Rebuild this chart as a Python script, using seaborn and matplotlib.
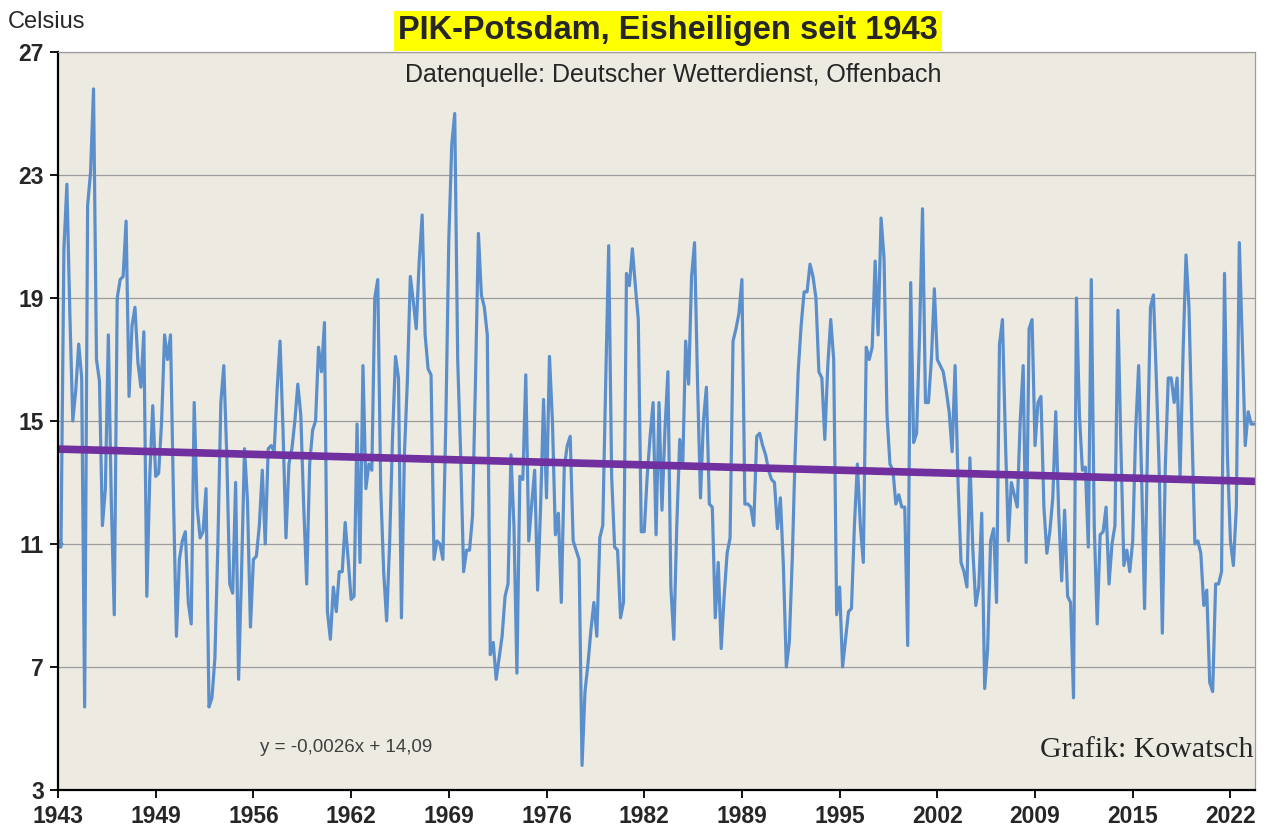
import numpy as np
import pandas as pd
import matplotlib
matplotlib.use("Agg")
import matplotlib.pyplot as plt
import seaborn as sns

# Tagesmittel Potsdam, 11.-15. Mai, 1943-2023 (5 Werte pro Jahr)
temps = [
    11.0, 10.9, 20.6, 22.7, 18.5, 15.0, 16.0, 17.5, 16.4, 5.7,
    22.0, 23.1, 25.8, 17.0, 16.3, 11.6, 12.8, 17.8, 12.4, 8.7,
    19.0, 19.6, 19.7, 21.5, 15.8, 18.1, 18.7, 16.9, 16.1, 17.9,
    9.3, 13.2, 15.5, 13.2, 13.3, 15.0, 17.8, 17.0, 17.8, 12.5,
    8.0, 10.5, 11.1, 11.4, 9.1, 8.4, 15.6, 12.2, 11.2, 11.4,
    12.8, 5.7, 6.0, 7.3, 11.0, 15.6, 16.8, 13.9, 9.7, 9.4,
    13.0, 6.6, 10.1, 14.1, 12.4, 8.3, 10.5, 10.6, 11.6, 13.4,
    11.0, 14.1, 14.2, 14.0, 16.0, 17.6, 14.7, 11.2, 13.6, 14.1,
    15.0, 16.2, 15.2, 12.2, 9.7, 13.6, 14.7, 15.0, 17.4, 16.6,
    18.2, 8.8, 7.9, 9.6, 8.8, 10.1, 10.1, 11.7, 10.5, 9.2,
    9.3, 14.9, 10.4, 16.8, 12.8, 13.6, 13.4, 19.0, 19.6, 12.8,
    10.1, 8.5, 11.0, 14.5, 17.1, 16.4, 8.6, 13.9, 16.3, 19.7,
    18.9, 18.0, 20.2, 21.7, 17.8, 16.7, 16.5, 10.5, 11.1, 11.0,
    10.5, 15.0, 20.9, 24.0, 25.0, 17.0, 13.9, 10.1, 10.8, 10.8,
    11.9, 16.3, 21.1, 19.1, 18.7, 17.8, 7.4, 7.8, 6.6, 7.3,
    8.0, 9.3, 9.7, 13.9, 11.6, 6.8, 13.2, 13.1, 16.5, 11.1,
    12.3, 13.4, 9.5, 12.2, 15.7, 12.5, 17.1, 15.0, 11.3, 12.0,
    9.1, 13.5, 14.2, 14.5, 11.1, 10.8, 10.5, 3.8, 6.2, 7.1,
    8.2, 9.1, 8.0, 11.2, 11.6, 16.3, 20.7, 13.2, 10.9, 10.8,
    8.6, 9.1, 19.8, 19.4, 20.6, 19.4, 18.3, 11.4, 11.4, 13.2,
    14.5, 15.6, 11.3, 15.6, 12.1, 14.7, 16.6, 9.6, 7.9, 11.6,
    14.4, 13.5, 17.6, 16.2, 19.7, 20.8, 16.3, 12.5, 15.0, 16.1,
    12.3, 12.2, 8.6, 10.4, 7.6, 9.3, 10.7, 11.2, 17.6, 18.0,
    18.5, 19.6, 12.3, 12.3, 12.2, 11.6, 14.5, 14.6, 14.2, 13.9,
    13.4, 13.1, 13.0, 11.5, 12.5, 10.3, 7.0, 7.8, 10.5, 14.0,
    16.6, 18.1, 19.2, 19.2, 20.1, 19.7, 19.0, 16.6, 16.4, 14.4,
    16.8, 18.3, 17.0, 8.7, 9.6, 7.0, 7.9, 8.8, 8.9, 11.6,
    13.6, 11.6, 10.4, 17.4, 17.0, 17.4, 20.2, 17.8, 21.6, 20.3,
    15.2, 13.6, 13.4, 12.3, 12.6, 12.2, 12.2, 7.7, 19.5, 14.3,
    14.6, 17.8, 21.9, 15.6, 15.6, 17.0, 19.3, 17.0, 16.8, 16.6,
    16.0, 15.3, 14.0, 16.8, 13.0, 10.4, 10.1, 9.6, 13.8, 10.8,
    9.0, 9.6, 12.0, 6.3, 7.6, 11.1, 11.5, 9.1, 17.5, 18.3,
    14.4, 11.1, 13.0, 12.6, 12.2, 15.0, 16.8, 10.4, 18.0, 18.3,
    14.2, 15.6, 15.8, 12.2, 10.7, 11.4, 12.5, 15.3, 12.0, 9.8,
    12.1, 9.3, 9.1, 6.0, 19.0, 15.2, 13.4, 13.5, 10.9, 19.6,
    11.6, 8.4, 11.3, 11.4, 12.2, 9.7, 11.0, 11.6, 18.6, 14.2,
    10.3, 10.8, 10.1, 11.1, 14.7, 16.8, 13.2, 8.9, 14.2, 18.7,
    19.1, 16.3, 13.2, 8.1, 13.5, 16.4, 16.4, 15.6, 16.4, 13.2,
    17.2, 20.4, 18.7, 14.7, 11.0, 11.1, 10.7, 9.0, 9.5, 6.5,
    6.2, 9.7, 9.7, 10.1, 19.8, 13.8, 11.1, 10.3, 12.2, 20.8,
    17.6, 14.2, 15.3, 14.9, 14.9,
]

tick_labels = ['1943', '1949', '1956', '1962', '1969', '1976', '1982',
               '1989', '1995', '2002', '2009', '2015', '2022']
tick_step = 33  # Excel: jede 33. Kategorie beschriftet

# Trendlinie laut Excel
trend_slope = -0.0026
trend_intercept = 14.09

df = pd.DataFrame({'n': np.arange(1, len(temps) + 1), 'temp': temps})
df['trend'] = trend_intercept + trend_slope * df['n']

sns.set_style('white')
plt.rcParams['font.family'] = ['Liberation Sans', 'DejaVu Sans']

W, H = 1287, 836
fig = plt.figure(figsize=(W / 100, H / 100), dpi=100)
ax = fig.add_axes([58 / W, 1 - 790 / H, (1255 - 58) / W, (790 - 52) / H])
ax.set_facecolor('#EDEAE2')

sns.lineplot(data=df, x='n', y='temp', color='#5B8FCC', lw=2.3, ax=ax,
             marker='D', markevery=[0], markersize=6, markeredgewidth=0)
sns.lineplot(data=df, x='n', y='trend', color='#7030A0', lw=5.5, ax=ax)

ax.set_xlim(1, len(temps) + 0.3)
ax.set_ylim(3, 27)
ax.set_yticks(range(3, 28, 4))
ax.set_xticks([1 + tick_step * k for k in range(len(tick_labels))])
ax.set_xticklabels(tick_labels)
ax.set_xlabel('')
ax.set_ylabel('')

ax.yaxis.grid(True, color='#9C9C9C', lw=0.9)
ax.xaxis.grid(False)
ax.set_axisbelow(True)

for s in ['left', 'bottom']:
    ax.spines[s].set_color('black')
    ax.spines[s].set_linewidth(1.6)
for s in ['top', 'right']:
    ax.spines[s].set_color('#9C9C9C')
    ax.spines[s].set_linewidth(0.9)

ax.tick_params(axis='both', direction='out', length=6, width=1.3,
               color='black', labelsize=16.5, bottom=True, left=True)
ax.tick_params(axis='y', pad=4)
ax.tick_params(axis='x', pad=5)
for lab in ax.get_xticklabels() + ax.get_yticklabels():
    lab.set_fontweight('bold')

fig.text(8 / W, 1 - 22 / H, 'Celsius', ha='left', va='center', fontsize=17)
fig.text(668 / W, 1 - 31 / H, 'PIK-Potsdam, Eisheiligen seit 1943',
         ha='center', va='center', fontsize=23.5, fontweight='bold',
         bbox=dict(facecolor='#FFFF00', edgecolor='none', pad=3))
fig.text(673 / W, 1 - 75 / H, 'Datenquelle: Deutscher Wetterdienst, Offenbach',
         ha='center', va='center', fontsize=18)
fig.text(260 / W, 1 - 748 / H, 'y = -0,0026x + 14,09', ha='left', va='center',
         fontsize=13.5, color='#404040')
fig.text(1040 / W, 1 - 750 / H, 'Grafik: Kowatsch', ha='left', va='center',
         fontsize=21.5, family=['Liberation Serif', 'DejaVu Serif'])

fig.savefig('out.png', dpi=100)
